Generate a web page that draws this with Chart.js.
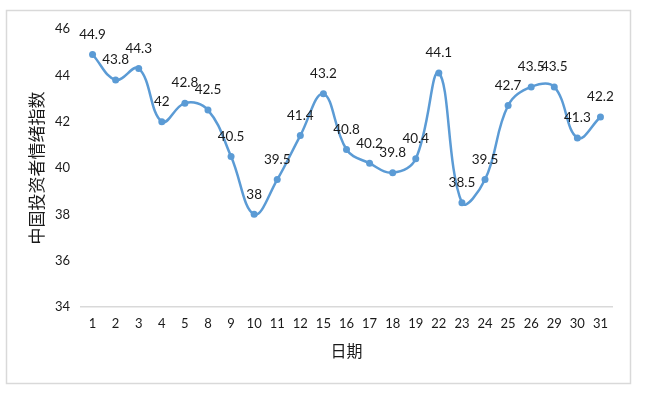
<!DOCTYPE html>
<html>
<head>
<meta charset="utf-8">
<script src="https://cdn.jsdelivr.net/npm/chart.js@4.4.0/dist/chart.umd.min.js"></script>
<style>
  html, body { margin: 0; padding: 0; background: #fff; }
  #wrap { position: relative; width: 653px; height: 396px; }
</style>
</head>
<body>
<div id="wrap"><canvas id="c" width="653" height="396"></canvas></div>
<script>
const categories = ['1','2','3','4','5','8','9','10','11','12','15','16','17','18','19','22','23','24','25','26','29','30','31'];
const sentimentValues = [44.9,43.8,44.3,42,42.8,42.5,40.5,38,39.5,41.4,43.2,40.8,40.2,39.8,40.4,44.1,38.5,39.5,42.7,43.5,43.5,41.3,42.2];
const yTicks = [34,36,38,40,42,44,46];
const xTitle = '日期';
const yTitle = '中国投资者情绪指数';

const FONT = "Lato, 'Noto Sans CJK SC', sans-serif";
const TEXT = '#1a1a1a';

const framePlugin = {
  id: 'frame',
  beforeDraw(chart) {
    const ctx = chart.ctx;
    ctx.save();
    ctx.fillStyle = '#fff';
    ctx.fillRect(0, 0, chart.width, chart.height);
    ctx.strokeStyle = '#d9d9d9';
    ctx.lineWidth = 1.5;
    ctx.strokeRect(6.5, 10.5, 624, 373);
    ctx.restore();
  }
};

const labelPlugin = {
  id: 'pointLabels',
  afterDatasetsDraw(chart) {
    const ctx = chart.ctx;
    const meta = chart.getDatasetMeta(0);
    const data = chart.data.datasets[0].data;
    ctx.save();
    ctx.font = "13.5px " + FONT;
    ctx.fillStyle = TEXT;
    ctx.textAlign = 'center';
    ctx.textBaseline = 'middle';
    meta.data.forEach((pt, i) => {
      ctx.fillText(String(data[i]), pt.x, pt.y - 20);
    });
    ctx.restore();
  }
};

new Chart(document.getElementById('c'), {
  type: 'line',
  data: {
    labels: categories,
    datasets: [{
      data: sentimentValues,
      borderColor: '#5b9bd5',
      backgroundColor: '#5b9bd5',
      borderWidth: 2.5,
      tension: 0.4,
      pointRadius: 3.5,
      pointHoverRadius: 3.5,
      pointBorderWidth: 0,
      pointBackgroundColor: '#5b9bd5',
      clip: false
    }]
  },
  options: {
    responsive: false,
    animation: false,
    devicePixelRatio: 1,
    layout: { padding: { left: 22, top: 29, right: 41, bottom: 35 } },
    plugins: { legend: { display: false }, tooltip: { enabled: false } },
    scales: {
      x: {
        type: 'category',
        offset: true,
        grid: { display: false, drawTicks: false },
        border: { display: true, color: '#d9d9d9', width: 1.5 },
        ticks: { color: TEXT, font: { family: FONT, size: 13 }, padding: 9, maxRotation: 0, autoSkip: false },
        title: { display: true, text: xTitle, color: TEXT, font: { family: FONT, size: 16 }, padding: { top: 0, bottom: 0 } },
        afterFit(scale) { scale.height = 54; }
      },
      y: {
        min: 34,
        max: 46,
        afterBuildTicks(scale) { scale.ticks = yTicks.map(v => ({ value: v })); },
        grid: { display: false, drawTicks: false },
        border: { display: false },
        ticks: { color: TEXT, font: { family: FONT, size: 13 }, padding: 11 },
        title: { display: true, text: yTitle, color: TEXT, font: { family: FONT, size: 17 }, padding: { top: 5, bottom: 0 } },
        afterFit(scale) { scale.width = 59; }
      }
    }
  },
  plugins: [framePlugin, labelPlugin]
});
</script>
</body>
</html>
